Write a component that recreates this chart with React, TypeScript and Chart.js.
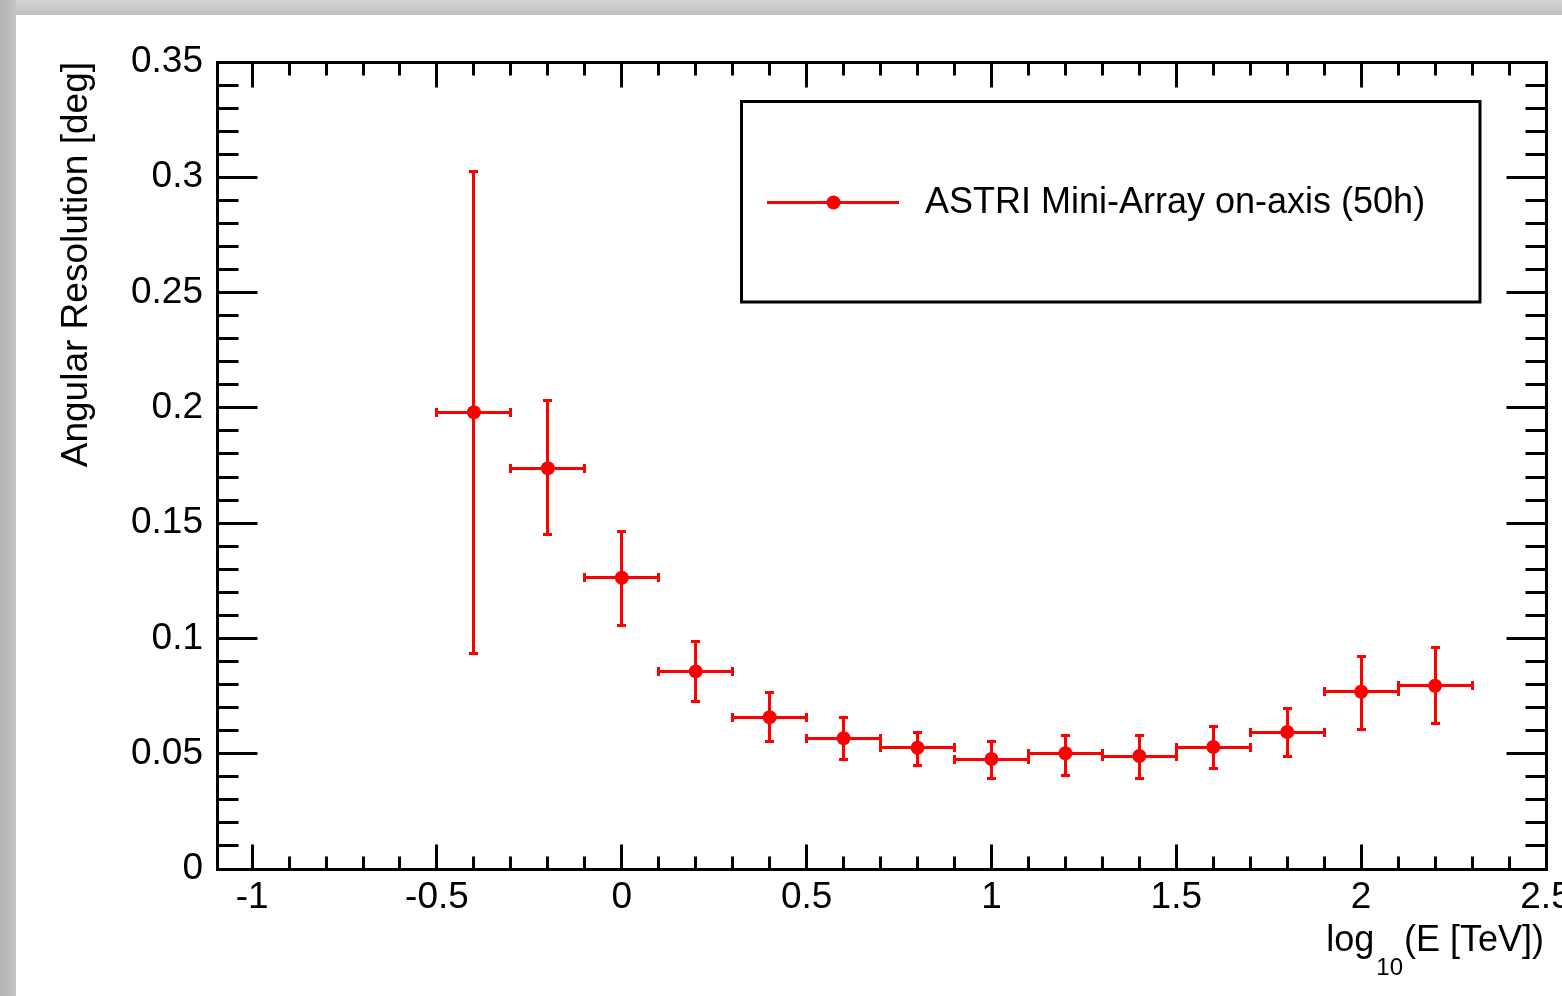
import React, { useEffect, useRef } from 'react';
import { Chart, registerables } from 'chart.js';

Chart.register(...registerables);

// ---- data ----
const energyLog10 = [-0.4, -0.2, 0, 0.2, 0.4, 0.6, 0.8, 1.0, 1.2, 1.4, 1.6, 1.8, 2.0, 2.2];
const binHalfWidth = [0.1, 0.1, 0.1, 0.1, 0.1, 0.1, 0.1, 0.1, 0.1, 0.1, 0.1, 0.1, 0.1, 0.1];
const angularResolution = [0.1981, 0.1738, 0.1263, 0.0857, 0.0658, 0.0567, 0.0526, 0.0477, 0.0502, 0.049, 0.0529, 0.0594, 0.0769, 0.0795];
const errorBarTop = [0.3027, 0.2033, 0.1465, 0.0988, 0.0766, 0.0658, 0.0593, 0.0554, 0.058, 0.058, 0.0619, 0.0697, 0.0922, 0.0962];
const errorBarBottom = [0.0936, 0.1452, 0.1057, 0.0727, 0.0554, 0.0477, 0.045, 0.0393, 0.0406, 0.0393, 0.0435, 0.0489, 0.0607, 0.0632];

const xTickValues = [-1, -0.5, 0, 0.5, 1, 1.5, 2, 2.5];
const xTickLabels = ['-1', '-0.5', '0', '0.5', '1', '1.5', '2', '2.5'];
const yTickValues = [0, 0.05, 0.1, 0.15, 0.2, 0.25, 0.3, 0.35];
const yTickLabels = ['0', '0.05', '0.1', '0.15', '0.2', '0.25', '0.3', '0.35'];

const seriesLabel = 'ASTRI Mini-Array on-axis (50h)';
const yTitle = 'Angular Resolution [deg]';
const xTitleMain = 'log';
const xTitleSub = '10';
const xTitleRest = '(E [TeV])';

const RED = '#ff0000';
const FONT = '"Liberation Sans", Arial, Helvetica, sans-serif';

const snap = (p: number) => Math.round(p - 0.5) + 0.5;

const rootStylePlugin = {
  id: 'rootStyle',
  beforeDatasetsDraw(chart: any) {
    const { ctx } = chart;
    const x = chart.scales.x;
    const y = chart.scales.y;
    ctx.save();
    ctx.strokeStyle = RED;
    ctx.lineWidth = 3;
    ctx.lineCap = 'butt';
    const cap = 4.5;
    for (let i = 0; i < energyLog10.length; i++) {
      const px = snap(x.getPixelForValue(energyLog10[i]));
      const py = snap(y.getPixelForValue(angularResolution[i]));
      const pxL = snap(x.getPixelForValue(energyLog10[i] - binHalfWidth[i]));
      const pxR = snap(x.getPixelForValue(energyLog10[i] + binHalfWidth[i]));
      const pyT = snap(y.getPixelForValue(errorBarTop[i]));
      const pyB = snap(y.getPixelForValue(errorBarBottom[i]));
      ctx.beginPath();
      ctx.moveTo(pxL, py); ctx.lineTo(pxR, py);
      ctx.moveTo(pxL, py - cap); ctx.lineTo(pxL, py + cap);
      ctx.moveTo(pxR, py - cap); ctx.lineTo(pxR, py + cap);
      ctx.moveTo(px, pyT); ctx.lineTo(px, pyB);
      ctx.moveTo(px - cap, pyT); ctx.lineTo(px + cap, pyT);
      ctx.moveTo(px - cap, pyB); ctx.lineTo(px + cap, pyB);
      ctx.stroke();
    }
    ctx.restore();
  },
  afterDraw(chart: any) {
    const { ctx, chartArea } = chart;
    const left = snap(chartArea.left);
    const right = snap(chartArea.right);
    const top = snap(chartArea.top);
    const bottom = snap(chartArea.bottom);
    const x = chart.scales.x;
    const y = chart.scales.y;
    ctx.save();
    ctx.strokeStyle = '#000';
    ctx.lineWidth = 3;
    ctx.lineCap = 'butt';

    // ticks (inside, all four sides)
    ctx.beginPath();
    for (let k = -11; k <= 25; k++) {
      const v = k / 10;
      if (v < x.min - 1e-9 || v > x.max + 1e-9) continue;
      const px = snap(x.getPixelForValue(v));
      const len = k % 5 === 0 ? 25 : 13;
      ctx.moveTo(px, bottom); ctx.lineTo(px, bottom - len);
      ctx.moveTo(px, top); ctx.lineTo(px, top + len);
    }
    for (let k = 0; k <= 35; k++) {
      const v = k / 100;
      const py = snap(y.getPixelForValue(v));
      const len = k % 5 === 0 ? 40 : 21;
      ctx.moveTo(left, py); ctx.lineTo(left + len, py);
      ctx.moveTo(right, py); ctx.lineTo(right - len, py);
    }
    ctx.stroke();

    // frame
    ctx.strokeRect(left, top, right - left, bottom - top);

    // legend box
    ctx.strokeRect(741.5, 101.5, 1480 - 741.5, 302 - 101.5);
    ctx.strokeStyle = RED;
    ctx.beginPath();
    ctx.moveTo(767, 202.5); ctx.lineTo(899, 202.5);
    ctx.stroke();
    ctx.fillStyle = RED;
    ctx.beginPath();
    ctx.arc(833.5, 202.5, 7, 0, Math.PI * 2);
    ctx.fill();
    ctx.fillStyle = '#000';
    ctx.font = `36px ${FONT}`;
    ctx.textAlign = 'left';
    ctx.textBaseline = 'alphabetic';
    ctx.fillText(seriesLabel, 925, 213);

    // x-axis title with subscript, right-aligned to the frame
    const endX = chartArea.right - 2;
    ctx.font = `36px ${FONT}`;
    const wRest = ctx.measureText(xTitleRest).width;
    const wMain = ctx.measureText(xTitleMain).width;
    ctx.font = `24px ${FONT}`;
    const wSub = ctx.measureText(xTitleSub).width;
    const xRest = endX - wRest;
    const xSub = xRest - wSub - 1;
    const xMain = xSub - wMain - 2;
    const base = 951;
    ctx.font = `36px ${FONT}`;
    ctx.fillText(xTitleMain, xMain, base);
    ctx.fillText(xTitleRest, xRest, base);
    ctx.font = `24px ${FONT}`;
    ctx.fillText(xTitleSub, xSub, base + 24);
    ctx.restore();
  },
};

export default function App() {
  const ref = useRef<HTMLCanvasElement>(null);

  useEffect(() => {
    if (!ref.current) return;
    const chart = new Chart(ref.current, {
      type: 'scatter',
      data: {
        datasets: [
          {
            label: seriesLabel,
            data: energyLog10.map((v, i) => ({ x: v, y: angularResolution[i] })),
            backgroundColor: RED,
            borderColor: RED,
            borderWidth: 0,
            pointRadius: 7,
            pointHoverRadius: 7,
            showLine: false,
          },
        ],
      },
      options: {
        animation: false,
        responsive: false,
        events: [],
        layout: { padding: { top: 62, right: 16, left: 0, bottom: 0 } },
        plugins: {
          legend: { display: false },
          tooltip: { enabled: false },
          title: { display: false },
        },
        scales: {
          x: {
            type: 'linear',
            min: -1.095,
            max: 2.5,
            grid: { display: false, drawTicks: false },
            border: { display: false },
            afterBuildTicks: (scale: any) => {
              scale.ticks = xTickValues.map((v) => ({ value: v }));
            },
            afterFit: (scale: any) => {
              scale.height = 127;
              scale.paddingLeft = 0;
              scale.paddingRight = 0;
            },
            ticks: {
              autoSkip: false,
              maxRotation: 0,
              minRotation: 0,
              padding: 7,
              color: '#000',
              font: { family: FONT, size: 37 },
              callback: (value: any) => {
                const idx = xTickValues.findIndex((t) => Math.abs(t - Number(value)) < 1e-9);
                return idx >= 0 ? xTickLabels[idx] : '';
              },
            },
          },
          y: {
            type: 'linear',
            min: 0,
            max: 0.35,
            grid: { display: false, drawTicks: false },
            border: { display: false },
            afterBuildTicks: (scale: any) => {
              scale.ticks = yTickValues.map((v) => ({ value: v }));
            },
            afterFit: (scale: any) => {
              scale.width = 217;
              scale.paddingTop = 0;
              scale.paddingBottom = 0;
            },
            title: {
              display: true,
              text: yTitle,
              align: 'end',
              color: '#000',
              font: { family: FONT, size: 37 },
              padding: { top: 55, bottom: 0 },
            },
            ticks: {
              autoSkip: false,
              padding: 14,
              color: '#000',
              font: { family: FONT, size: 37 },
              callback: (value: any) => {
                const idx = yTickValues.findIndex((t) => Math.abs(t - Number(value)) < 1e-9);
                return idx >= 0 ? yTickLabels[idx] : '';
              },
            },
          },
        },
      },
      plugins: [rootStylePlugin],
    } as any);
    return () => chart.destroy();
  }, []);

  return (
    <div style={{ position: 'fixed', left: 0, top: 0, width: 1562, height: 996, background: '#ffffff', overflow: 'hidden' }}>
      <div style={{ position: 'absolute', left: 0, top: 0, width: 1562, height: 15, background: 'linear-gradient(#d3d3d3, #cacaca 45%, #c0c0c0)' }} />
      <div style={{ position: 'absolute', left: 0, top: 0, width: 16, height: 996, background: 'linear-gradient(90deg, #b4b4b4, #bcbcbc 60%, #c6c6c6)' }} />
      <canvas ref={ref} width={1562} height={996} style={{ position: 'absolute', left: 0, top: 0, display: 'block' }} />
    </div>
  );
}
